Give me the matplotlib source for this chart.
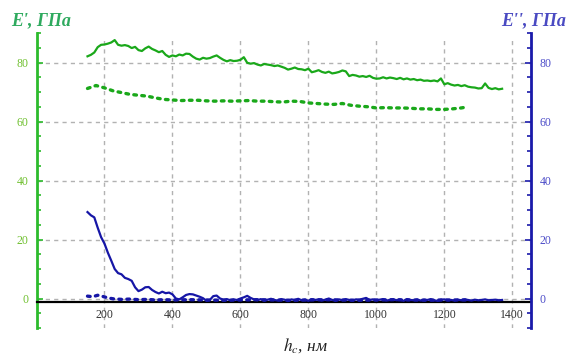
import matplotlib
matplotlib.use("Agg")
import matplotlib.pyplot as plt
import numpy as np

# Storage modulus E' (solid and dotted series), GPa
h_e1 = list(range(150, 1380, 10))
e1_solid = [82.1, 82.6, 83.4, 85.2, 86.0, 86.1, 86.4, 86.8, 87.6, 86.0,
            85.7, 85.9, 85.6, 84.9, 85.3, 84.2, 83.9, 84.8, 85.4, 84.6,
            84.1, 83.5, 83.9, 82.6, 81.9, 82.4, 82.1, 82.7, 82.4, 83.0,
            82.9, 82.0, 81.3, 81.0, 81.6, 81.3, 81.5, 82.0, 82.4, 81.6,
            80.9, 80.4, 80.8, 80.5, 80.6, 80.9, 81.8, 79.9, 79.6, 79.8,
            79.3, 79.0, 79.5, 79.3, 79.1, 78.8, 79.0, 78.6, 78.2, 77.6,
            77.9, 78.3, 77.8, 77.7, 77.4, 77.9, 76.7, 77.0, 77.4, 76.8,
            76.5, 76.9, 76.3, 76.5, 76.8, 77.3, 77.0, 75.4, 75.8, 75.6,
            75.2, 75.4, 75.1, 75.5, 74.8, 74.5, 74.6, 75.0, 74.6, 74.9,
            74.7, 74.4, 74.8, 74.3, 74.6, 74.2, 74.4, 74.0, 74.2, 73.8,
            73.9, 73.7, 73.9, 73.6, 74.6, 72.6, 73.0, 72.5, 72.2, 72.4,
            72.0, 72.3, 71.8, 71.6, 71.5, 71.2, 71.3, 72.9, 71.4, 71.0,
            71.3, 70.9, 71.1]

h_e1_dot = [150, 175, 200, 225, 250, 275, 300, 325, 350, 375, 400, 425,
            450, 475, 500, 525, 550, 575, 600, 625, 650, 675, 700, 725,
            750, 775, 800, 825, 850, 875, 900, 925, 950, 975, 1000, 1025,
            1050, 1075, 1100, 1125, 1150, 1175, 1200, 1225, 1250, 1270]
e1_dot = [71.2, 72.2, 71.4, 70.4, 69.8, 69.2, 68.9, 68.6, 68.0, 67.5,
          67.3, 67.1, 67.2, 67.2, 67.0, 66.9, 67.0, 66.9, 67.0, 67.1,
          66.9, 66.9, 66.7, 66.6, 66.9, 66.8, 66.3, 66.1, 65.9, 65.8,
          66.1, 65.5, 65.2, 65.0, 64.6, 64.7, 64.6, 64.6, 64.5, 64.3,
          64.3, 64.1, 64.1, 64.3, 64.6, 65.0]

# Loss modulus E'', GPa
h_e2 = list(range(150, 1380, 10))
e2_solid = [29.3, 28.2, 27.5, 24.0, 20.8, 18.6, 15.5, 12.8, 10.0, 8.6,
            8.2, 7.0, 6.6, 6.0, 3.8, 2.5, 3.0, 3.8, 3.9, 2.9,
            2.2, 1.7, 2.3, 1.8, 2.0, 1.4, 0.0, -0.3, 0.4, 1.2,
            1.5, 1.4, 1.0, 0.6, 0.1, -0.8, -0.5, 0.8, 1.0, 0.0,
            -0.4, -0.2, -0.6, -0.3, -0.5, 0.0, 0.4, 0.9, 0.2, -0.3,
            -0.6, -0.2, -0.8, -0.4, -0.1, -0.5, -0.7, -0.2, -0.4, -0.9,
            -0.3, -0.5, -0.1, -0.6, -0.4, -0.8, -0.2, -0.5, -0.3, -0.7,
            -0.4, 0.0, -0.5, -0.8, -0.3, -0.6, -0.2, -0.5, -0.7, -0.3,
            -0.4, -0.1, 0.2, -0.5, -0.3, -0.6, -0.4, -0.2, -0.7, -0.5,
            -0.3, -0.6, -0.4, -0.8, -0.2, -0.5, -0.6, -0.3, -0.7, -0.4,
            -0.5, -0.2, -0.6, -0.8, -0.4, -0.3, -0.6, -0.5, -0.7, -0.4,
            -0.6, -0.3, -0.5, -0.7, -0.4, -0.6, -0.5, -0.3, -0.6, -0.5,
            -0.4, -0.6, -0.5]

h_e2_dot = [150, 165, 180, 195, 210, 225, 250, 275, 300, 325, 350, 375,
            400, 450, 500, 550, 600, 650, 700, 750, 800, 850, 900, 950,
            1000, 1050, 1100, 1150, 1200, 1250, 1270]
e2_dot = [0.8, 0.6, 1.1, 0.7, 0.2, -0.1, -0.3, -0.2, -0.4, -0.3, -0.5, -0.4,
          -0.5, -0.4, -0.5, -0.6, -0.5, -0.4, -0.5, -0.6, -0.5, -0.4, -0.5, -0.6,
          -0.5, -0.4, -0.5, -0.6, -0.5, -0.5, -0.5]

x_ticks = [200, 400, 600, 800, 1000, 1200, 1400]
y_ticks = [0, 20, 40, 60, 80]

GREEN = "#1aa81a"
BLUE = "#1616a6"
SPINE_G = "#2cbb2c"
SPINE_B = "#1a1aaa"
LBL_G = "#70c030"
LBL_B = "#4c4cc8"
GRID = "#b2b2b2"

plt.rcParams["mathtext.fontset"] = "stix"
serif = ["Liberation Serif", "DejaVu Serif"]

fig = plt.figure(figsize=(5.69, 3.58), dpi=100)
ax = fig.add_axes([0.0642, 0.0838, 0.9332 - 0.0642, 0.9078 - 0.0838])
ax2 = ax.twinx()

for a in (ax, ax2):
    a.set_xlim(0, 1455)
    a.set_ylim(-10, 90)
    a.set_facecolor("none")

ax.set_zorder(1)
ax2.set_zorder(2)

# dashed grid
for xv in x_ticks:
    ax.plot([xv, xv], [-10, 88.5], color=GRID, lw=1.0, ls=(0, (3, 3)),
            zorder=0)
for yv in y_ticks:
    ax.axhline(yv, color=GRID, lw=1.0, ls=(0, (3, 3)), zorder=0)

# E' curves
ax.plot(h_e1, e1_solid, color=GREEN, lw=1.6, zorder=3)
ax.plot(h_e1_dot, e1_dot, color=GREEN, lw=2.4, ls=(0, (0.8, 1.6)),
        dash_capstyle="round", zorder=3)

# E'' curves
ax2.plot(h_e2_dot, e2_dot, color=BLUE, lw=2.4, ls=(0, (0.8, 1.6)),
         dash_capstyle="round", zorder=3)
ax2.plot(h_e2, e2_solid, color=BLUE, lw=1.6, zorder=3)

# horizontal axis line just under zero
ax.spines["bottom"].set_position(("data", -1.1))
ax.spines["bottom"].set_color("black")
ax.spines["bottom"].set_linewidth(1.6)
ax.spines["bottom"].set_zorder(4)
ax.spines["top"].set_visible(False)
ax.spines["right"].set_visible(False)
ax.spines["left"].set_color(SPINE_G)
ax.spines["left"].set_linewidth(2.0)

ax2.spines["bottom"].set_visible(False)
ax2.spines["top"].set_visible(False)
ax2.spines["left"].set_visible(False)
ax2.spines["right"].set_color(SPINE_B)
ax2.spines["right"].set_linewidth(2.0)

ax.set_xticks(x_ticks)
ax.set_xticklabels([str(v) for v in x_ticks], family=serif, fontsize=8.5,
                   color="#333333")
ax.tick_params(axis="x", length=0, pad=5)

ax.set_yticks(y_ticks)
ax.set_yticklabels([str(v) for v in y_ticks], family=serif, fontsize=8.5,
                   color=LBL_G)
ax.set_yticks(np.arange(-10, 91, 5), minor=True)
ax.tick_params(axis="y", which="both", direction="in", color=SPINE_G,
               width=1.2, pad=6)
ax.tick_params(axis="y", which="major", length=4)
ax.tick_params(axis="y", which="minor", length=3)

ax2.set_yticks(y_ticks)
ax2.set_yticklabels([str(v) for v in y_ticks], family=serif, fontsize=8.5,
                    color=LBL_B)
ax2.set_yticks(np.arange(-10, 91, 5), minor=True)
ax2.tick_params(axis="y", which="both", direction="in", color=SPINE_B,
                width=1.2, pad=6)
ax2.tick_params(axis="y", which="major", length=4)
ax2.tick_params(axis="y", which="minor", length=3)

fig.text(0.019, 0.93, "E', ГПа", family=serif, style="italic",
         weight="bold", fontsize=13, color="#2eaa5e", ha="left",
         va="baseline")
fig.text(0.995, 0.93, "E'', ГПа", family=serif, style="italic",
         weight="bold", fontsize=13, color="#4a4ac2", ha="right",
         va="baseline")
fig.text(0.497, 0.02, "$h_c$, нм", family=serif, style="italic",
         fontsize=12.5, color="#222222", ha="left", va="baseline")

fig.savefig("out.png", dpi=100)
